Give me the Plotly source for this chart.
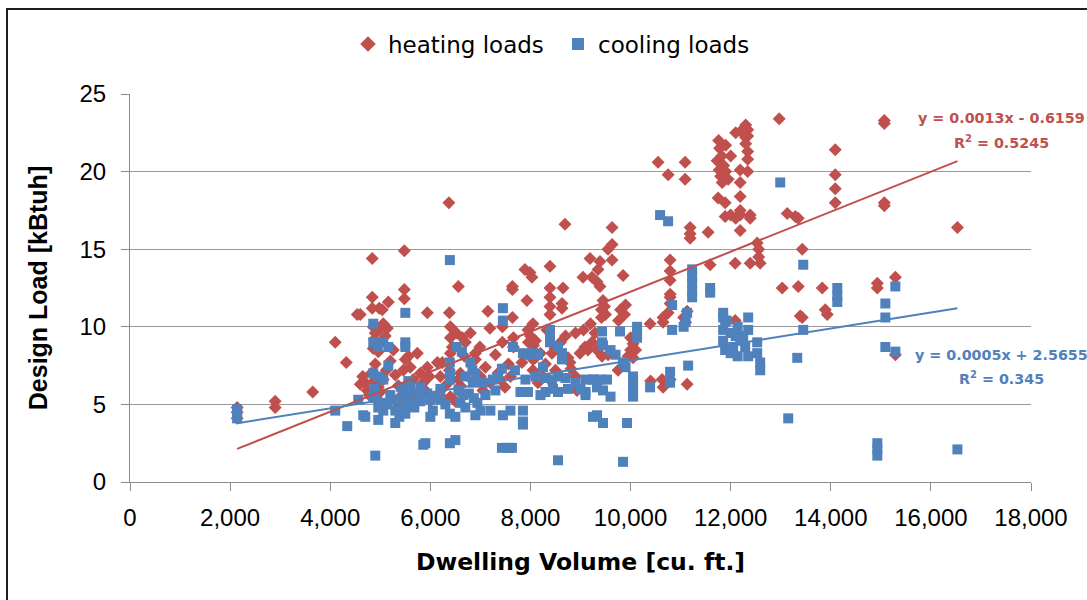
import plotly.graph_objects as go

# ---------------- data ----------------
heating_volume = [
    2140, 2140, 2140, 2900, 2900, 3650, 4100, 4320, 4540, 4600, 4650, 4700, 4740,
    4840, 4840, 4840, 4980, 5040, 5160, 4600, 4860, 4900, 4960, 5060, 5140, 4880, 5020, 5100,
    4860, 4960, 4900, 4820, 4880, 4960, 5000, 4780, 4920, 5060, 5120, 5200, 5260,
    5480, 5480, 5480, 5940, 5300, 5360, 5400, 5340, 5400, 5460, 5500, 5560, 5600, 5660,
    5740, 5800, 5860, 5900, 5940, 5980, 5700, 6000, 5560,
    6370, 6380, 6560, 6400, 6400, 6440, 6400, 6240, 6140, 6380, 6420, 6400, 6300, 6200,
    6520, 6640, 6600, 6560, 6620, 6680, 6700, 6500, 6250, 6600,
    6800, 6900, 6900, 6990, 7190, 7300, 7440, 7440, 7490, 7640, 7640, 7640, 7660, 7660,
    7000, 7100, 7200, 7350, 6850, 7050, 7400, 7560, 7600, 7150,
    7890, 7990, 8030, 7930, 8050, 7950, 8000, 8100, 7960, 8060, 7830, 8050, 8050, 8200,
    8300, 8250, 8150, 8330, 8100,
    8390, 8390, 8390, 8390, 8390, 8630, 8630, 8650, 8690, 8430, 8490, 8750, 8990, 9090,
    9150, 8790, 8810, 8930, 8600, 8700, 8900, 9050, 9190, 9060, 9200, 8500, 8900,
    9230, 9330, 9390, 9390, 9350, 9630, 9630, 9630, 9550, 9850, 9450, 9480, 9420, 9500,
    9420, 9900, 9800, 9880, 9760, 9290, 9230, 9330, 9430, 9550, 10000, 10050, 10000,
    10100, 9950, 10050, 9750,
    10390, 10550, 10750, 11090, 11090, 10790, 10790, 10790, 10790, 10790, 10790, 10750,
    10650, 10650, 11130, 11060, 11100, 10630, 10650, 10790, 11130, 11190, 11190, 11190, 10400,
    11550, 11590, 11730, 11770, 11800, 11830, 11760, 11780, 11820, 11860, 11750, 11890,
    11890, 12000, 12100, 12190, 12190, 12190, 12190, 12190, 12190, 12100, 12200, 12300,
    12340, 12340, 12300, 12340, 12340, 12340, 12390, 12390, 12530, 12560, 12560, 12590,
    12390, 12090, 12090, 12300, 11900, 11900, 11950, 12000,
    12970, 13130, 13290, 13350, 13430, 13030, 13350, 13830, 13390, 13430, 13890, 13930,
    14090, 14090, 14090, 14090, 14930, 14930, 15070, 15070, 15290, 15290, 16530, 15070, 15070,
]
heating_load = [
    4.8, 4.5, 4.1, 5.2, 4.8, 5.8, 9.0, 7.7, 10.8, 6.3, 6.8, 6.4, 5.9,
    14.4, 11.9, 11.2, 11.2, 11.1, 11.6, 10.8, 10.0, 9.6, 9.8, 10.2, 9.9, 9.2, 9.1, 9.4,
    8.6, 8.4, 7.6, 7.0, 6.5, 6.1, 5.8, 5.6, 5.4, 6.6, 7.2, 7.8, 8.5,
    14.9, 12.4, 11.8, 10.9, 6.9, 6.2, 5.5, 4.8, 4.4, 7.2, 7.9, 8.1, 7.4, 6.6,
    8.3, 7.0, 6.4, 5.9, 7.4, 6.8, 5.6, 5.2, 6.0,
    18.0, 10.9, 12.6, 10.0, 9.3, 8.7, 8.3, 7.7, 7.7, 7.2, 6.6, 5.5, 6.2, 6.8,
    9.6, 9.3, 7.0, 6.6, 5.7, 8.1, 9.0, 5.2, 5.4, 6.2,
    9.6, 8.3, 7.9, 8.7, 9.9, 8.2, 10.0, 9.0, 6.1, 12.6, 12.4, 10.6, 9.3, 8.7,
    6.8, 7.4, 6.4, 7.0, 6.5, 5.9, 6.6, 7.6, 6.8, 11.0,
    13.7, 13.5, 13.2, 11.7, 10.2, 9.8, 9.4, 9.1, 9.0, 8.8, 7.7, 7.9, 7.2, 8.3,
    7.6, 6.8, 6.4, 9.8, 8.0,
    13.9, 12.5, 11.9, 11.3, 10.8, 11.5, 11.2, 12.5, 16.6, 8.3, 8.6, 8.0, 8.3, 8.7,
    8.5, 7.7, 7.3, 5.9, 9.0, 9.4, 9.6, 13.2, 14.4, 9.8, 10.2, 7.2, 6.8,
    13.2, 12.9, 12.6, 14.2, 13.7, 14.3, 16.4, 15.3, 15.0, 13.3, 11.7, 11.3, 11.1, 10.8,
    10.6, 11.4, 11.1, 10.8, 10.4, 9.6, 9.0, 8.5, 8.1, 8.2, 9.3, 8.9, 8.5,
    8.5, 8.1, 8.0, 7.2,
    10.2, 20.6, 19.8, 20.6, 19.5, 14.3, 13.6, 13.0, 12.1, 11.9, 11.5, 10.9,
    10.6, 10.3, 11.0, 10.6, 10.3, 6.6, 6.1, 6.6, 6.3, 16.4, 16.0, 15.7, 6.5,
    16.1, 14.0, 20.7, 20.1, 19.7, 19.3, 22.0, 21.5, 21.0, 20.4, 18.3, 18.0,
    17.1, 17.2, 17.0, 20.1, 19.3, 18.4, 17.5, 17.2, 16.2, 22.5, 22.6, 23.0,
    22.7, 22.3, 21.8, 21.3, 20.8, 20.0, 17.2, 17.0, 15.4, 15.0, 14.5, 14.1,
    14.1, 14.1, 10.4, 22.2, 21.7, 20.0, 19.5, 21.0,
    23.4, 17.3, 17.1, 17.0, 15.0, 12.5, 12.6, 12.5, 10.7, 10.6, 11.1, 10.8,
    21.4, 19.8, 18.9, 18.0, 12.8, 12.5, 23.3, 18.0, 13.2, 8.2, 16.4, 23.1, 17.8,
]

cooling_volume = [
    2140, 2140, 2140, 4100, 4340, 4560, 4660, 4700, 4900,
    4860, 4860, 4950, 5060, 5160, 5160, 4860, 4960, 5060, 4860, 4900, 4960, 4960, 5060,
    4880, 5000, 5200, 5300, 5300, 5300, 5140,
    5500, 5500, 5500, 5420, 5460, 5500, 5450, 5600, 5560, 5680, 5750, 5800, 5800, 5650,
    5860, 5900, 5940, 6000, 6100, 6200, 6300, 6000, 6050, 5380, 5500, 5560,
    6390, 6390, 6390, 6390, 6530, 6390, 6390, 6500, 6500, 6630, 6800, 6840, 6900, 6700,
    6850, 6560, 6660, 6600, 6700, 6770, 6870, 6940, 7000, 6900, 6200,
    7450, 7450, 7050, 7250, 7350, 7430, 7690, 7650, 7850, 7950, 7200, 7450, 7600, 7850,
    7850, 7850, 7430, 7630, 7550, 7800, 7900, 7950, 7100, 7300,
    8050, 8150, 8250, 8390, 8390, 8390, 8550, 8630, 8630, 8100, 8300, 8430, 8550, 8700,
    8900, 9100, 9250, 8300, 8550, 9100, 9100, 9250, 8550, 8450, 8750, 9000, 8200,
    9430, 9430, 9450, 9600, 9700, 9850, 9900, 9790, 10130, 10130, 10130, 10050, 10050,
    10050, 10050, 9260, 9400, 9530, 9330, 9450, 9600, 9330, 9450, 9930, 9850, 10390,
    10590, 10750, 11230, 11230, 11230, 11230, 11230, 10830, 11130, 11100, 11060, 10830,
    10790, 10790, 11150, 11590, 11590,
    11850, 11920, 11850, 12000, 12140, 12350, 12350, 12190, 12050, 12290, 12140, 12350,
    12530, 12530, 12590, 12590, 11850, 11890, 11850, 11890, 12000, 12250, 12100,
    12990, 13450, 13450, 13330, 13150, 14130, 14130, 14130, 15290, 15090, 15090, 15090,
    15290, 14930, 14930, 14930, 16530,
]
cooling_load = [
    4.7, 4.4, 4.1, 4.6, 3.6, 5.3, 4.3, 4.2, 1.7,
    10.2, 9.0, 8.7, 9.0, 8.7, 7.5, 7.0, 6.8, 6.6, 5.5, 5.4, 4.8, 4.0, 4.6,
    6.0, 5.1, 5.6, 5.3, 4.6, 3.8, 5.0,
    10.9, 9.0, 8.7, 6.1, 5.7, 5.1, 4.8, 6.1, 5.5, 4.8, 5.7, 6.1, 5.2, 5.0,
    2.4, 2.5, 5.7, 5.3, 5.5, 5.3, 5.0, 4.2, 4.6, 4.2, 4.4, 6.5,
    14.3, 7.7, 7.0, 6.6, 8.7, 4.4, 2.5, 4.2, 2.7, 8.4, 7.7, 7.2, 7.0, 6.8,
    6.4, 5.9, 5.6, 5.1, 4.8, 5.7, 5.4, 5.1, 4.6, 4.3, 6.0,
    11.2, 10.4, 6.4, 6.6, 6.8, 7.3, 7.2, 8.7, 8.3, 8.2, 4.6, 4.3, 4.6, 4.6,
    3.9, 3.7, 2.2, 2.2, 2.2, 5.8, 6.6, 5.8, 5.6, 5.9,
    8.3, 8.2, 7.4, 9.8, 9.3, 9.0, 8.7, 8.3, 7.9, 6.8, 6.7, 6.6, 6.8, 6.7,
    6.4, 6.6, 6.6, 5.8, 5.8, 5.8, 5.6, 4.2, 1.4, 6.0, 6.0, 6.0, 5.6,
    9.7, 9.0, 8.8, 8.5, 8.2, 7.7, 7.4, 9.7, 10.0, 9.6, 9.3, 6.8, 6.4,
    5.9, 5.5, 6.6, 6.6, 6.6, 6.1, 5.9, 5.5, 4.3, 3.8, 3.8, 1.3, 6.1,
    17.2, 16.8, 13.7, 12.8, 11.9, 13.2, 12.3, 11.4, 10.9, 10.3, 10.0, 9.8,
    7.1, 6.4, 7.5, 12.5, 12.2,
    10.9, 10.4, 9.8, 9.6, 10.0, 10.6, 9.8, 9.1, 8.7, 8.7, 8.1, 8.1,
    9.0, 8.3, 7.7, 7.2, 10.6, 10.3, 9.1, 8.5, 8.3, 9.4, 9.4,
    19.3, 14.0, 9.8, 8.0, 4.1, 12.5, 12.0, 11.6, 12.6, 11.5, 10.6, 8.7,
    8.4, 2.5, 2.1, 1.7, 2.1,
]

# linear trend lines (slope, intercept) as drawn in the reference
heating_trend = (0.001288, -0.62)
cooling_trend = (0.000515, 2.68)
heating_equation = ["y = 0.0013x - 0.6159", "R<sup>2</sup> = 0.5245"]
cooling_equation = ["y = 0.0005x + 2.5655", "R<sup>2</sup> = 0.345"]

x_ticks = [0, 2000, 4000, 6000, 8000, 10000, 12000, 14000, 16000, 18000]
y_ticks = [0, 5, 10, 15, 20, 25]

RED = "#C0504D"
BLUE = "#4F81BD"
NARROW = "Liberation Sans, Arial, sans-serif"
WIDE = "DejaVu Sans, Verdana, sans-serif"

fig = go.Figure()
fig.add_trace(go.Scatter(
    x=heating_volume, y=heating_load, mode="markers", name="heating loads",
    marker=dict(symbol="diamond", size=10, color=RED, line=dict(width=0)),
))
fig.add_trace(go.Scatter(
    x=cooling_volume, y=cooling_load, mode="markers", name="cooling loads",
    marker=dict(symbol="square", size=10, color=BLUE, line=dict(width=0)),
))

# trend lines spanning the data range
def trend(xs, coef):
    lo, hi = min(xs), max(xs)
    return [lo, hi], [coef[0] * lo + coef[1], coef[0] * hi + coef[1]]

hx, hy = trend(heating_volume, heating_trend)
cx, cy = trend(cooling_volume, cooling_trend)
fig.add_trace(go.Scatter(x=hx, y=hy, mode="lines", line=dict(color=RED, width=2),
                         showlegend=False, hoverinfo="skip"))
fig.add_trace(go.Scatter(x=cx, y=cy, mode="lines", line=dict(color=BLUE, width=2),
                         showlegend=False, hoverinfo="skip"))

L, R, T, B = 130, 56, 94, 118
W, H = 1087, 600
pw, ph = W - L - R, H - T - B

def px(xp):
    return (xp - L) / pw

def py(yp):
    return (H - B - yp) / ph

annos = [
    dict(text="<b>" + heating_equation[0] + "</b>", y=py(118), color=RED),
    dict(text="<b>" + heating_equation[1] + "</b>", y=py(142), color=RED),
    dict(text="<b>" + cooling_equation[0] + "</b>", y=py(355), color=BLUE),
    dict(text="<b>" + cooling_equation[1] + "</b>", y=py(378), color=BLUE),
]
for a in annos:
    fig.add_annotation(text=a["text"], x=px(1001), y=a["y"], xref="paper", yref="paper",
                       xanchor="center", yanchor="middle", showarrow=False,
                       font=dict(family=WIDE, size=14.3, color=a["color"]))

# outer chart border
fig.add_shape(type="rect", xref="paper", yref="paper",
              x0=px(7), y0=py(640), x1=px(1120), y1=py(9),
              line=dict(color="#1e1e1e", width=2), fillcolor="rgba(0,0,0,0)")

fig.update_layout(
    width=W, height=H,
    margin=dict(l=L, r=R, t=T, b=B, autoexpand=False),
    paper_bgcolor="white", plot_bgcolor="white",
    font=dict(family=NARROW, size=24, color="black"),
    legend=dict(orientation="h", x=px(558), y=py(44), xanchor="center", yanchor="middle",
                font=dict(family=WIDE, size=23), itemsizing="constant",
                entrywidth=165, bgcolor="rgba(0,0,0,0)"),
    xaxis=dict(
        range=[0, 18000], tickvals=x_ticks, tickformat=",d",
        showgrid=False, zeroline=False, showline=True, linecolor="#8c8c8c", linewidth=1,
        ticks="outside", ticklen=8, tickcolor="#8c8c8c", ticklabelstandoff=6,
        title=dict(text="<b>Dwelling Volume [cu. ft.]</b>",
                   font=dict(family=WIDE, size=23.5), standoff=23),
    ),
    yaxis=dict(
        range=[0, 25], tickvals=y_ticks,
        showgrid=True, gridcolor="#9a9a9a", gridwidth=1, zeroline=False,
        showline=True, linecolor="#8c8c8c", linewidth=1,
        ticks="outside", ticklen=8, tickcolor="#8c8c8c", ticklabelstandoff=10,
        title=dict(text="<b>Design Load [kBtuh]</b>",
                   font=dict(family=NARROW, size=25), standoff=24),
    ),
)

fig.write_html(
    "out.html",
    config={"displayModeBar": False},
    post_script="document.body.style.margin='0';document.body.style.overflow='hidden';",
)
